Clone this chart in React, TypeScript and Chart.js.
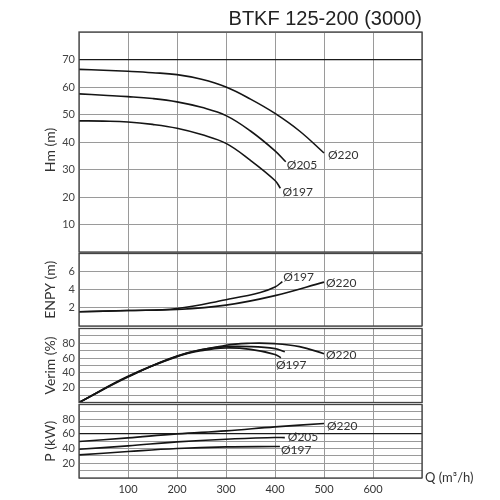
import React, { useEffect, useRef } from "react";
import { Chart, registerables } from "chart.js";

Chart.register(...registerables);

// ---------- data ----------
const TITLE = "BTKF 125-200 (3000)";
const X_TITLE = "Q (m³/h)";
const Q_TICKS = [0, 100, 200, 300, 400, 500, 600, 700];

// Head Hm (m)
const H_220_Q = [0, 50, 100, 150, 200, 250, 300, 350, 400, 450, 500];
const H_220 = [66.4, 66.1, 65.7, 65.2, 64.5, 62.8, 60.0, 55.6, 50.4, 44.0, 36.0];
const H_205_Q = [0, 50, 100, 150, 200, 250, 300, 350, 400, 422];
const H_205 = [57.5, 57.0, 56.5, 55.8, 54.6, 52.6, 49.6, 44.0, 36.8, 32.8];
const H_197_Q = [0, 50, 100, 150, 200, 250, 300, 350, 400, 411];
const H_197 = [47.7, 47.6, 47.3, 46.4, 45.0, 42.7, 39.5, 33.3, 26.0, 23.2];

// NPSH (m)
const N_220_Q = [0, 100, 200, 300, 400, 500];
const N_220 = [1.57, 1.71, 1.82, 2.3, 3.35, 4.84];
const N_197_Q = [0, 100, 200, 300, 370, 400, 415];
const N_197 = [1.57, 1.71, 1.93, 2.9, 3.7, 4.3, 4.9];

// Efficiency (%)
const E_220_Q = [0, 100, 200, 300, 350, 400, 450, 500];
const E_220 = [0, 34.4, 62.9, 77.4, 80, 79.5, 75.5, 66];
const E_205_Q = [0, 100, 200, 250, 300, 350, 400, 420];
const E_205 = [0, 35, 62.5, 71.5, 75.5, 75.5, 72.8, 68.7];
const E_197_Q = [0, 100, 200, 250, 300, 350, 400, 412];
const E_197 = [0, 35.5, 62, 70, 73.7, 71.8, 65, 60.5];

// Power (kW)
const P_220_Q = [0, 100, 200, 300, 400, 500];
const P_220 = [49.6, 54.6, 60, 64.1, 69.6, 74.2];
const P_205_Q = [0, 100, 200, 300, 400, 420];
const P_205 = [39.1, 43.7, 49.1, 52.8, 55, 55];
const P_197_Q = [0, 100, 200, 300, 400, 410];
const P_197 = [31.4, 36, 40.1, 42.3, 42.8, 42.8];

// ---------- styles ----------
const TICK_FONT = { family: "Lato, 'DejaVu Sans', sans-serif", size: 11 };
const GRID = "#9a9a9a";
const DARK = "#222";
const CURVE = "#151515";

const pts = (qs: number[], vs: number[]) => qs.map((q, i) => ({ x: q, y: vs[i] }));

type Series = { name: string; q: number[]; v: number[]; dx: number; dy: number };
type Panel = {
  top: number;
  bottom: number;
  min: number;
  max: number;
  step: number;
  labels: number[];
  darkLine: number | null;
  yTitle: string;
  series: Series[];
  showX: boolean;
};

const PANELS: Panel[] = [
  {
    top: 32, bottom: 252, min: 0, max: 80, step: 10,
    labels: [10, 20, 30, 40, 50, 60, 70], darkLine: 70, yTitle: "Hm (m)", showX: false,
    series: [
      { name: "Ø220", q: H_220_Q, v: H_220, dx: 4, dy: 2 },
      { name: "Ø205", q: H_205_Q, v: H_205, dx: 1, dy: 3 },
      { name: "Ø197", q: H_197_Q, v: H_197, dx: 2, dy: 4 },
    ],
  },
  {
    top: 253.5, bottom: 326, min: 0, max: 8, step: 2,
    labels: [2, 4, 6], darkLine: null, yTitle: "ENPY (m)", showX: false,
    series: [
      { name: "Ø220", q: N_220_Q, v: N_220, dx: 2, dy: 1 },
      { name: "Ø197", q: N_197_Q, v: N_197, dx: 1, dy: -4 },
    ],
  },
  {
    top: 328.5, bottom: 402.5, min: 0, max: 100, step: 10,
    labels: [20, 40, 60, 80], darkLine: null, yTitle: "Verim (%)", showX: false,
    series: [
      { name: "Ø220", q: E_220_Q, v: E_220, dx: 2, dy: 1 },
      { name: "", q: E_205_Q, v: E_205, dx: 0, dy: 0 },
      { name: "Ø197", q: E_197_Q, v: E_197, dx: -5, dy: 7 },
    ],
  },
  {
    top: 404.5, bottom: 478, min: 0, max: 100, step: 10,
    labels: [20, 40, 60, 80], darkLine: 60, yTitle: "P (kW)", showX: true,
    series: [
      { name: "Ø220", q: P_220_Q, v: P_220, dx: 3, dy: 3 },
      { name: "Ø205", q: P_205_Q, v: P_205, dx: 3, dy: 0 },
      { name: "Ø197", q: P_197_Q, v: P_197, dx: 1, dy: 4 },
    ],
  },
];

const LEFT = 79;
const RIGHT = 422;
const W = 500;
const H = 500;

function makeConfig(p: Panel, isFirst: boolean): any {
  const xAxisH = p.showX ? 18 : 0;
  const overlay = {
    id: "overlay",
    afterDatasetsDraw(chart: any) {
      const { ctx, chartArea } = chart;
      ctx.save();
      // frame
      ctx.strokeStyle = "#444";
      ctx.lineWidth = 1.3;
      ctx.strokeRect(chartArea.left, chartArea.top, chartArea.right - chartArea.left, chartArea.bottom - chartArea.top);
      // curve labels
      ctx.fillStyle = "#333";
      ctx.font = "12px Lato, 'DejaVu Sans', sans-serif";
      ctx.textAlign = "left";
      ctx.textBaseline = "middle";
      p.series.forEach((s, i) => {
        if (!s.name) return;
        const meta = chart.getDatasetMeta(i);
        const last = meta.data[meta.data.length - 1];
        ctx.fillText(s.name, last.x + s.dx, last.y + s.dy);
      });
      // y title
      ctx.fillStyle = "#333";
      ctx.font = "14px Lato, 'DejaVu Sans', sans-serif";
      ctx.translate(50, (chartArea.top + chartArea.bottom) / 2 + (isFirst ? 8 : 0));
      ctx.rotate(-Math.PI / 2);
      ctx.textAlign = "center";
      ctx.textBaseline = "middle";
      ctx.fillText(p.yTitle, 0, 0);
      ctx.restore();
      ctx.save();
      if (isFirst) {
        ctx.fillStyle = DARK;
        ctx.font = "20px 'Liberation Sans', Arial, sans-serif";
        ctx.textAlign = "right";
        ctx.textBaseline = "middle";
        ctx.fillText(TITLE, RIGHT, 19);
      }
      if (p.showX) {
        ctx.fillStyle = "#333";
        ctx.font = "13px Lato, 'DejaVu Sans', sans-serif";
        ctx.textAlign = "left";
        ctx.textBaseline = "middle";
        ctx.fillText(X_TITLE, RIGHT + 3, chartArea.bottom);
      }
      ctx.restore();
    },
  };

  return {
    type: "line",
    data: {
      datasets: p.series.map((s) => ({
        label: s.name,
        data: pts(s.q, s.v),
        borderColor: CURVE,
        borderWidth: 1.6,
        pointRadius: 0,
        fill: false,
        tension: 0.4,
      })),
    },
    options: {
      responsive: false,
      animation: false,
      devicePixelRatio: 1,
      layout: {
        padding: { left: 0, right: W - RIGHT, top: p.top, bottom: H - p.bottom - xAxisH },
      },
      plugins: { legend: { display: false }, tooltip: { enabled: false }, title: { display: false } },
      scales: {
        x: {
          type: "linear",
          min: Q_TICKS[0],
          max: Q_TICKS[Q_TICKS.length - 1],
          afterBuildTicks: (s: any) => {
            s.ticks = Q_TICKS.map((v) => ({ value: v }));
          },
          afterFit: (s: any) => {
            s.height = xAxisH;
          },
          grid: { color: GRID, lineWidth: 1, drawTicks: false },
          border: { display: false },
          ticks: {
            display: p.showX,
            autoSkip: false,
            padding: 5,
            color: "#333",
            font: TICK_FONT,
            maxRotation: 0,
            callback: (v: number) => (v === 0 || v === 700 ? "" : String(v)),
          },
        },
        y: {
          type: "linear",
          min: p.min,
          max: p.max,
          afterBuildTicks: (s: any) => {
            const t = [];
            for (let v = p.min; v <= p.max + 1e-9; v += p.step) t.push({ value: v });
            s.ticks = t;
          },
          afterFit: (s: any) => {
            s.width = LEFT;
          },
          grid: {
            color: (c: any) => (c.tick && p.darkLine !== null && c.tick.value === p.darkLine ? "#1a1a1a" : GRID),
            lineWidth: (c: any) => (c.tick && p.darkLine !== null && c.tick.value === p.darkLine ? 1.3 : 1),
            drawTicks: false,
          },
          border: { display: false },
          ticks: {
            autoSkip: false,
            padding: 4,
            color: "#444",
            font: TICK_FONT,
            callback: (v: number) => (p.labels.includes(v) ? String(v) : ""),
          },
        },
      },
    },
    plugins: [overlay],
  };
}

function PanelChart({ panel, first }: { panel: Panel; first: boolean }) {
  const ref = useRef<HTMLCanvasElement>(null);
  useEffect(() => {
    if (!ref.current) return;
    const chart = new Chart(ref.current, makeConfig(panel, first));
    return () => chart.destroy();
  }, []);
  return (
    <canvas
      ref={ref}
      width={W}
      height={H}
      style={{ position: "absolute", left: 0, top: 0, width: W, height: H }}
    />
  );
}

export default function App() {
  return (
    <div style={{ position: "absolute", left: 0, top: 0, width: W, height: H, background: "#fff" }}>
      {PANELS.map((p, i) => (
        <PanelChart key={i} panel={p} first={i === 0} />
      ))}
    </div>
  );
}
